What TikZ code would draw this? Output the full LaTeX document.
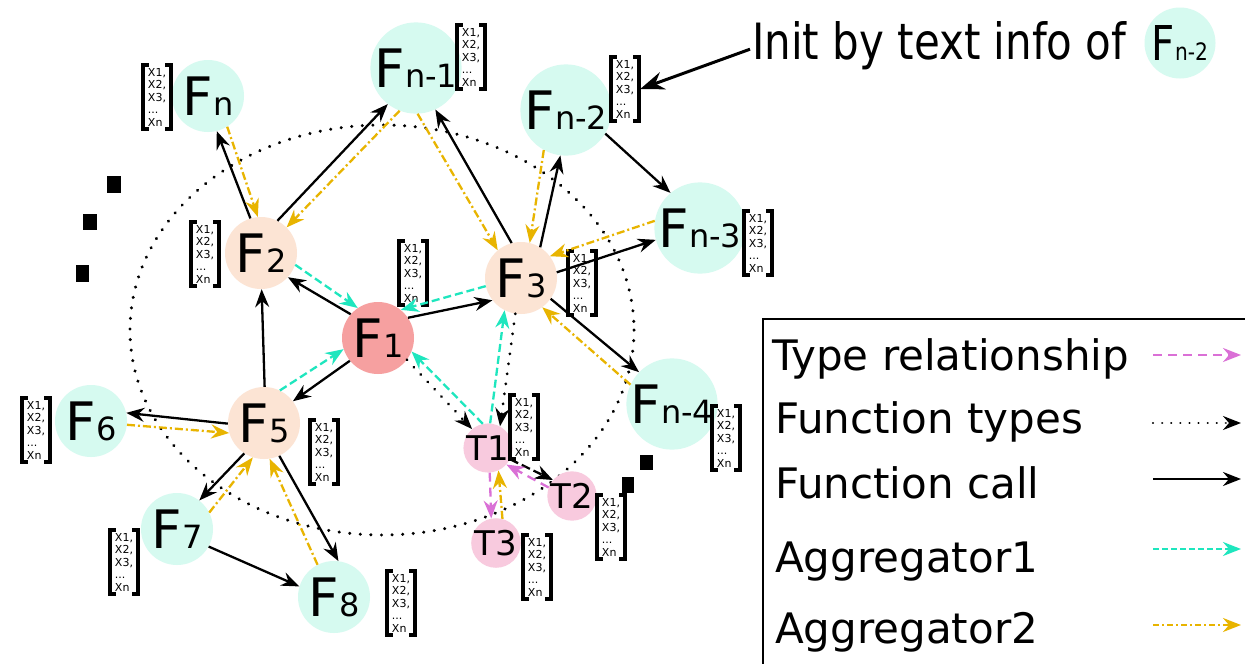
\documentclass[tikz,border=0pt]{standalone}
\usepackage{fontspec}
\setmainfont{DejaVu Sans}
\usetikzlibrary{arrows.meta}
\definecolor{cfill}{RGB}{214,250,240}
\definecolor{pfill}{RGB}{252,228,212}
\definecolor{sfill}{RGB}{246,160,160}
\definecolor{tfill}{RGB}{248,202,222}
\definecolor{agone}{RGB}{30,230,190}
\definecolor{agtwo}{RGB}{232,180,0}
\definecolor{trel}{RGB}{218,112,214}
\newcommand\FL[1]{{\fontsize{53}{53}\selectfont F}{\fontsize{32}{32}\selectfont #1}}
\newcommand\myvec[2]{%
  \node[vecn] (#1) at (#2) {X1,\\X2,\\X3,\\...\\Xn};
  \draw[brk] ([xshift=6pt]#1.north west) -- (#1.north west) -- (#1.south west) -- ([xshift=6pt]#1.south west);
  \draw[brk] ([xshift=-6pt]#1.north east) -- (#1.north east) -- (#1.south east) -- ([xshift=-6pt]#1.south east);}
\tikzset{
  cn/.style={circle, fill=cfill, minimum size=72pt, inner sep=0pt},
  pn/.style={circle, fill=pfill, minimum size=72pt, inner sep=0pt},
  sn/.style={circle, fill=sfill, minimum size=72pt, inner sep=0pt},
  tn/.style={circle, fill=tfill, minimum size=48pt, inner sep=0pt, font=\fontsize{34}{34}\selectfont},
  vecn/.style={inner sep=0pt, minimum width=28pt, minimum height=64pt, align=left, font=\fontsize{11}{12.5}\selectfont},
  brk/.style={line width=4.5pt, line cap=butt, line join=miter},
  tip/.style={-{Stealth[length=18pt,width=14pt,inset=6pt]}},
  callarr/.style={tip, line width=2.3pt, black},
  typesarr/.style={tip, line width=3pt, black, dash pattern=on 0.1pt off 10pt, line cap=round},
  agonearr/.style={tip, line width=2.3pt, agone, dash pattern=on 8pt off 4pt},
  agtwoarr/.style={tip, line width=2.3pt, agtwo, dash pattern=on 8pt off 3pt on 2pt off 3pt},
  trelarr/.style={tip, line width=2.3pt, trel, dash pattern=on 9pt off 6pt},
  dashcall/.style={tip, line width=2.3pt, black, dash pattern=on 9pt off 4pt},
  legtxt/.style={anchor=base west, font=\fontsize{42}{42}\selectfont, inner sep=0pt},
}
\begin{document}
\begin{tikzpicture}[x=1pt,y=-1pt]
\useasboundingbox (0,0) rectangle (1245,664);
\fill[white] (0,0) rectangle (1245,664);
% dotted ellipse
\draw[line width=3.3pt, dash pattern=on 0.1pt off 10.5pt, line cap=round] (382,330) ellipse [x radius=252, y radius=205];
% black squares
\fill (107,176) rectangle (121,193);
\fill (83,214) rectangle (97,230);
\fill (76,265) rectangle (89,282);
\fill (640,455) rectangle (653,470);
\fill (622,477) rectangle (634,493);
% nodes
\node[cn] (Fn) at (208,96) {\FL{n}};
\node[cn] (Fn1) at (416,68) {\FL{n-1}};
\node[cn] (Fn2) at (566,110) {\FL{n-2}};
\node[cn] (Fn3) at (700,228) {\FL{n-3}};
\node[cn] (Fn4) at (672,404) {\FL{n-4}};
\node[pn] (F2) at (261,253) {\FL{2}};
\node[pn] (F3) at (521,278) {\FL{3}};
\node[sn] (F1) at (378,338) {\FL{1}};
\node[pn] (F5) at (264,423) {\FL{5}};
\node[cn] (F6) at (91,421) {\FL{6}};
\node[cn] (F7) at (177,529) {\FL{7}};
\node[cn] (F8) at (334,597) {\FL{8}};
\node[tn] (T1) at (488,448) {T1};
\node[tn] (T2) at (572,496) {T2};
\node[tn] (T3) at (496,543) {T3};
% vectors
\myvec{vFn}{157,97}
\myvec{vFn1}{471,57}
\myvec{vFn2}{625,89}
\myvec{vFn3}{758,243}
\myvec{vF3}{582,283}
\myvec{vF1}{413,273}
\myvec{vF2}{205,254}
\myvec{vF5}{324,452}
\myvec{vF6}{36,430}
\myvec{vF7}{124,562}
\myvec{vF8}{401,603}
\myvec{vT1}{524,427}
\myvec{vT2}{611,527}
\myvec{vT3}{537,567}
\myvec{vFn4}{726,438}
% function calls
\draw[callarr] (F2.107) -- (Fn.-76);
\draw[callarr] (F2.63) -- (Fn1.-128);
\draw[callarr] (F3.105) -- (Fn1.-65);
\draw[callarr] (F3.58) -- (Fn2.-97);
\draw[callarr] (Fn2.-31) -- (Fn3.130);
\draw[callarr] (F3.9) -- (Fn3.195);
\draw[callarr] (F3.-35) -- (Fn4.136);
\draw[callarr] (F1.34) -- (F3.218);
\draw[callarr] (F1.139) -- (F2.-42);
\draw[callarr] (F1.219) -- (F5.37);
\draw[callarr] (F5.89) -- (F2.-89);
\draw[callarr] (F5.181) -- (F6.13);
\draw[callarr] (F5.237) -- (F7.52);
\draw[callarr] (F5.-65) -- (F8.83);
\draw[callarr] (F7.-29) -- (F8.163);
\draw[dashcall] (T1.-27) -- (T2.140);
% function types
\draw[typesarr] (F1.-37) -- (T1.130);
\draw[typesarr] (F3.-99) -- (T1.61);
% aggregator 1
\draw[agonearr] (F2.-19) -- (F1.124);
\draw[agonearr] (F5.64) -- (F1.198);
\draw[agonearr] (F3.193) -- (F1.51);
\draw[agonearr] (T1.102) -- (F1.-22);
\draw[agonearr] (T1.85) -- (F3.-117);
% aggregator 2
\draw[agtwoarr] (Fn.-58) -- (F2.95);
\draw[agtwoarr] (Fn1.-111) -- (F2.45);
\draw[agtwoarr] (Fn1.-88) -- (F3.130);
\draw[agtwoarr] (Fn2.-119) -- (F3.76);
\draw[agtwoarr] (Fn3.171) -- (F3.37);
\draw[agtwoarr] (Fn4.155) -- (F3.-54);
\draw[agtwoarr] (F6.-6) -- (F5.196);
\draw[agtwoarr] (F7.27) -- (F5.252);
\draw[agtwoarr] (F8.117) -- (F5.-81);
\draw[agtwoarr] (T3.75) -- (T1.-65);
% type relationship
\draw[trelarr] (T1.-86) -- (T3.101);
\draw[trelarr] (T2.160) -- (T1.-42);
% annotation
\node[anchor=base west, inner sep=0pt, font=\fontsize{50}{50}\selectfont] (init) at (752,59) {\scalebox{0.84}[1]{Init by text info of}};
\node[cn, minimum size=71pt] (ann) at (1180,43) {\scalebox{0.84}[1]{{\fontsize{48}{48}\selectfont F}{\fontsize{24}{24}\selectfont n-2}}};
\draw[line width=3pt, -{Stealth[length=24pt,width=18pt,inset=8pt]}] ([xshift=-2pt,yshift=-4pt]init.west) -- ([xshift=1pt]vFn2.east);
% legend
\draw[line width=2pt] (763,319) rectangle (1260,680);
\node[legtxt] (lg1) at (772,370) {Type relationship};
\node[legtxt] (lg2) at (775,433) {Function types};
\node[legtxt] (lg3) at (775,498) {Function call};
\node[legtxt] (lg4) at (775,572) {Aggregator1};
\node[legtxt] (lg5) at (775,643) {Aggregator2};
\coordinate (a1) at (1153,355); \coordinate (b1) at (1241,355);
\coordinate (a2) at (1153,423); \coordinate (b2) at (1241,423);
\coordinate (a3) at (1153,479); \coordinate (b3) at (1241,479);
\coordinate (a4) at (1153,549); \coordinate (b4) at (1241,549);
\coordinate (a5) at (1153,625); \coordinate (b5) at (1241,625);
\draw[trelarr] (a1) -- (b1);
\draw[typesarr, line width=2.2pt, dash pattern=on 0.1pt off 9pt] (a2) -- (b2);
\draw[callarr] (a3) -- (b3);
\draw[agonearr, dash pattern=on 6pt off 3pt] (a4) -- (b4);
\draw[agtwoarr, dash pattern=on 6pt off 3pt on 2pt off 3pt] (a5) -- (b5);
\end{tikzpicture}
\end{document}
